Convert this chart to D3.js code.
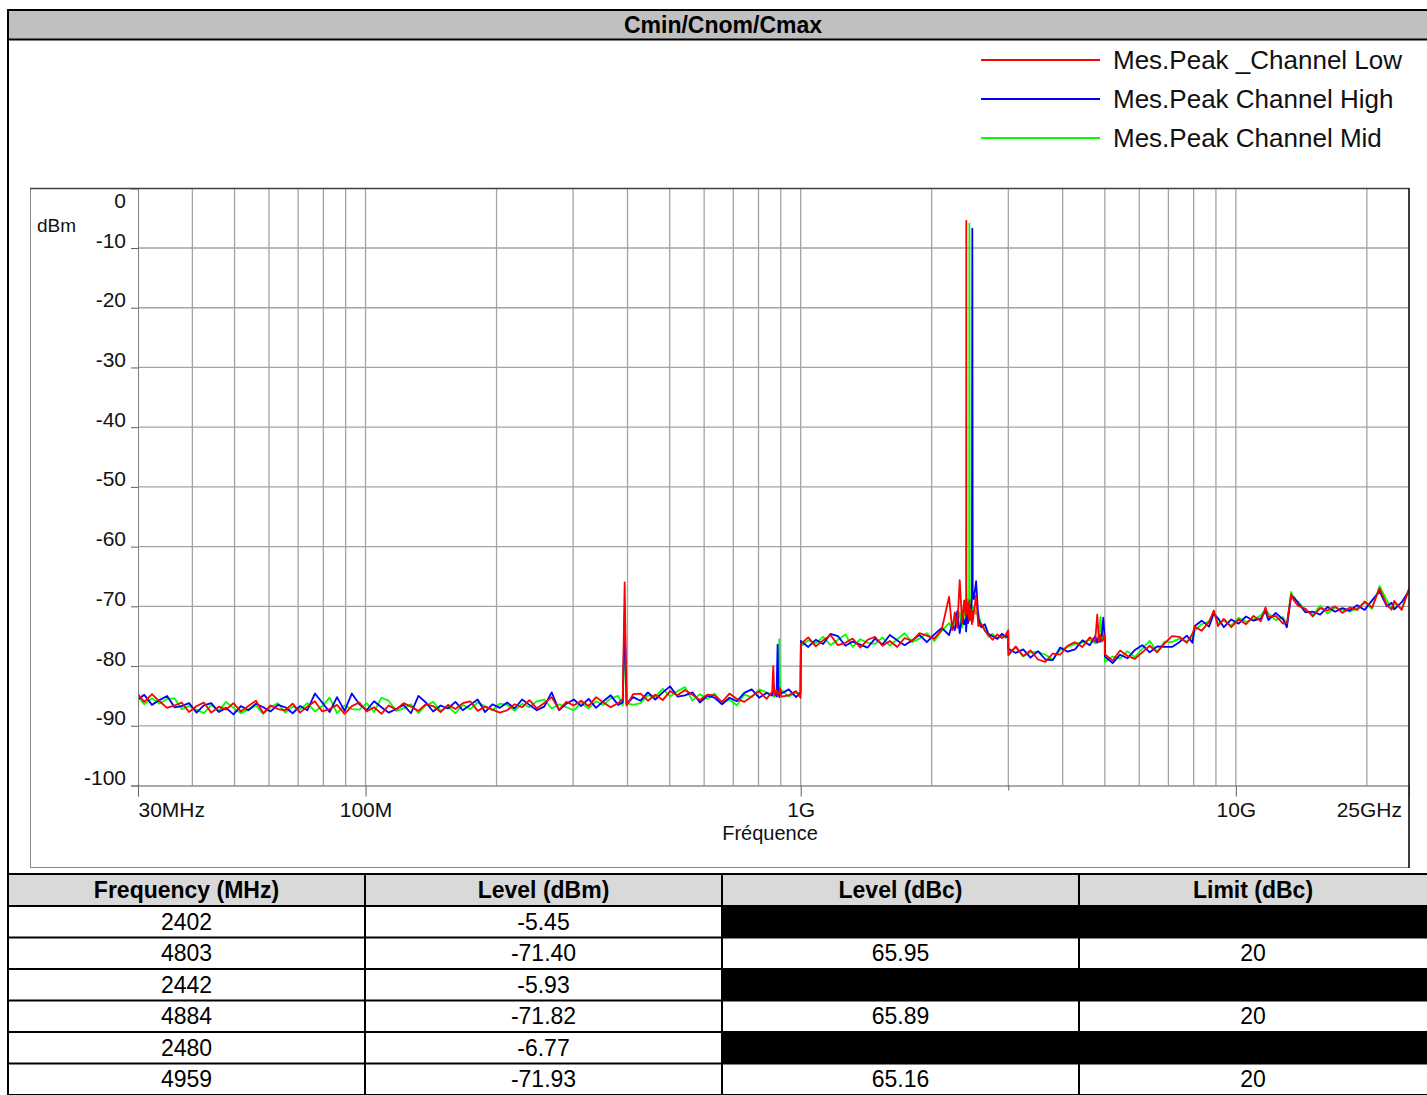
<!DOCTYPE html>
<html>
<head>
<meta charset="utf-8">
<script src="https://cdn.jsdelivr.net/npm/d3@7"></script>
<style>
  body { margin: 0; background: #fff; }
  text { font-family: "Liberation Sans", Arial, sans-serif; }
</style>
</head>
<body>
<script>
// sweep frequencies (MHz), shared by the three traces
var freqMHz = [
  30, 31, 32.3, 33.6, 35, 36.4, 37.8, 39.3, 40.9, 42.5,
  44.2, 46, 47.8, 49.7, 51.7, 53.8, 56, 58.2, 60.5, 62.9,
  65.4, 68, 70.7, 73.5, 76.5, 79.5, 82.7, 86, 89.5, 93,
  96.8, 100.6, 104.6, 108.8, 113, 117.6, 122.3, 127.2, 132.3, 137.6,
  143, 148.8, 154.7, 160.9, 167.3, 174, 181, 188.2, 195.7, 203.5,
  211.7, 220, 229, 238, 247.5, 257.4, 267.7, 278.4, 289.5, 301,
  313, 325.6, 338.6, 352, 366, 380.7, 390, 394, 398, 412,
  428.5, 445.6, 463.4, 482, 501, 521, 542, 564, 586.5, 610,
  634, 659.6, 686, 713.5, 742, 771.7, 802.6, 834.7, 860, 865,
  870, 880, 885, 889, 893, 897, 903, 939, 976, 999,
  1001, 1041, 1083, 1126, 1171, 1218, 1267, 1317, 1370, 1425,
  1482, 1541, 1603, 1667, 1733, 1803, 1875, 1950, 2028, 2109,
  2193, 2230, 2260, 2290, 2320, 2350, 2375, 2395, 2400, 2402,
  2404, 2410, 2425, 2438, 2442, 2446, 2460, 2475, 2480, 2485,
  2500, 2530, 2560, 2600, 2650, 2700, 2760, 2830, 2900, 2960,
  2999, 3001, 3120, 3245, 3375, 3510, 3650, 3796, 3948, 4106,
  4270, 4441, 4618, 4750, 4803, 4850, 4884, 4920, 4959, 4999,
  5001, 5210, 5420, 5636, 5862, 6096, 6340, 6594, 6857, 7132,
  7417, 7714, 7950, 8050, 8343, 8677, 8900, 9100, 9385, 9760,
  10150, 10556, 10979, 11418, 11700, 11875, 12350, 12844, 13100, 13400,
  13600, 13892, 14447, 15025, 15626, 16251, 16901, 17577, 18280, 19012,
  19772, 20563, 21386, 22241, 22800, 23131, 24056, 25000
];

// Mes.Peak _Channel Low (dBm)
var lowLevels = [
  -84.7, -86.0, -84.7, -85.9, -87.0, -86.6, -86.1, -87.7, -86.7, -86.1,
  -87.8, -86.8, -87.3, -86.2, -87.6, -86.7, -85.8, -87.9, -86.6, -87.2,
  -87.4, -86.3, -87.8, -86.8, -85.9, -87.6, -87.2, -86.5, -88.0, -86.7,
  -86.1, -87.6, -86.9, -88.0, -86.6, -87.3, -86.2, -86.8, -87.5, -86.4,
  -86.7, -87.7, -86.5, -87.2, -86.2, -85.9, -87.5, -86.8, -87.3, -87.8,
  -87.4, -86.4, -86.9, -85.7, -87.1, -86.2, -85.2, -87.3, -86.0, -86.6,
  -85.8, -86.7, -85.2, -86.1, -86.9, -86.2, -85.5, -66.0, -86.6, -84.7,
  -84.6, -85.8, -84.8, -85.7, -84.2, -84.9, -84.0, -84.8, -85.7, -84.8,
  -84.9, -86.0, -84.6, -85.5, -86.0, -85.1, -84.2, -85.5, -84.3, -80.0,
  -84.8, -84.1, -85.0, -84.3, -84.6, -83.7, -85.1, -84.9, -84.2, -85.3,
  -76.3, -75.2, -76.7, -75.7, -74.8, -76.5, -76.1, -75.4, -76.9, -75.6,
  -75.1, -76.6, -75.8, -76.8, -75.3, -75.8, -74.5, -74.9, -75.4, -73.9,
  -68.4, -74.0, -71.0, -73.6, -65.6, -72.8, -69.0, -71.8, -68.5, -5.45,
  -68.0, -71.2, -69.5, -72.3, -69.0, -72.4, -70.5, -73.0, -70.8, -72.6,
  -71.0, -68.2, -73.3, -72.9, -74.1, -74.8, -75.6, -74.7, -75.3, -74.8,
  -74.0, -78.2, -76.7, -78.3, -77.4, -78.9, -79.3, -77.9, -78.1, -76.6,
  -76.0, -76.8, -75.2, -75.9, -71.4, -76.0, -74.8, -75.8, -75.6, -74.7,
  -78.0, -79.1, -77.4, -78.3, -78.8, -77.7, -76.6, -77.7, -76.2, -75.0,
  -75.1, -76.1, -74.6, -73.4, -74.1, -72.6, -70.7, -73.3, -72.1, -73.5,
  -72.2, -73.0, -71.6, -72.5, -70.2, -71.8, -71.6, -72.9, -72.8, -68.0,
  -69.0, -69.9, -70.4, -71.7, -70.3, -70.7, -70.0, -71.1, -70.2, -70.6,
  -69.2, -70.2, -67.0, -69.8, -70.5, -69.1, -70.6, -67.0
];

// Mes.Peak Channel High (dBm)
var highLevels = [
  -85.6, -84.8, -86.5, -85.7, -85.0, -86.9, -86.7, -86.2, -87.8, -86.6,
  -86.2, -87.7, -87.0, -88.1, -86.7, -87.4, -86.3, -86.9, -87.6, -86.5,
  -86.9, -87.9, -86.7, -87.4, -84.6, -86.1, -87.7, -85.2, -87.5, -84.6,
  -86.4, -87.4, -85.9, -86.9, -87.8, -87.2, -86.5, -87.9, -85.0, -86.1,
  -87.6, -86.6, -87.1, -86.0, -87.4, -86.5, -85.6, -87.7, -86.4, -87.0,
  -86.1, -87.1, -85.6, -86.5, -87.4, -86.8, -84.4, -87.4, -86.3, -85.6,
  -86.7, -85.5, -87.0, -85.9, -84.9, -86.5, -86.1, -71.5, -86.4, -85.2,
  -85.8, -84.4, -85.6, -84.4, -83.4, -85.1, -84.9, -84.4, -86.1, -85.0,
  -85.3, -86.4, -85.3, -85.9, -84.5, -83.9, -85.3, -84.5, -84.9, -84.3,
  -84.0, -85.1, -76.4, -84.7, -85.2, -84.1, -84.6, -83.9, -85.2, -84.4,
  -75.8, -76.8, -75.6, -76.3, -74.6, -75.0, -76.6, -75.9, -76.4, -76.9,
  -75.4, -76.4, -74.8, -75.7, -76.5, -75.7, -74.8, -76.0, -74.7, -73.6,
  -74.8, -73.0, -74.0, -70.8, -74.5, -71.5, -73.0, -72.0, -74.2, -73.5,
  -73.5, -71.2, -72.8, -70.4, -72.3, -69.8, -71.5, -68.5, -6.77, -67.5,
  -68.8, -65.8, -72.0, -73.5, -73.0, -74.6, -75.0, -75.4, -74.6, -75.1,
  -74.9, -77.1, -77.8, -77.2, -78.6, -77.5, -78.9, -79.0, -76.9, -77.6,
  -77.2, -75.7, -76.5, -75.0, -76.1, -75.1, -75.9, -74.9, -71.9, -75.6,
  -78.4, -79.5, -78.1, -78.7, -77.3, -76.5, -77.7, -76.7, -76.8, -76.8,
  -76.0, -74.9, -76.1, -73.3, -72.4, -73.4, -71.2, -72.0, -73.5, -72.2,
  -72.9, -71.7, -72.4, -72.0, -70.8, -72.3, -71.1, -72.2, -73.5, -68.3,
  -68.5, -69.4, -71.0, -70.9, -71.4, -70.1, -70.9, -70.3, -70.7, -69.8,
  -70.6, -69.0, -67.5, -70.0, -69.4, -70.5, -69.3, -67.4
];

// Mes.Peak Channel Mid (dBm)
var midLevels = [
  -85.1, -86.4, -85.4, -86.3, -85.5, -85.4, -87.2, -86.7, -87.3, -87.9,
  -86.5, -87.5, -86.0, -87.0, -87.9, -87.3, -86.6, -88.0, -86.9, -86.2,
  -87.8, -86.8, -87.3, -86.2, -87.6, -86.7, -85.3, -87.9, -86.6, -87.2,
  -87.3, -86.2, -87.7, -85.3, -85.8, -87.5, -87.1, -86.4, -87.9, -86.6,
  -86.0, -87.5, -86.8, -87.9, -86.5, -87.2, -86.1, -86.7, -87.4, -86.3,
  -86.5, -87.5, -86.3, -86.9, -85.9, -85.6, -87.1, -86.4, -86.9, -87.4,
  -86.2, -87.1, -85.9, -86.5, -85.4, -85.0, -86.6, -75.0, -86.2, -86.5,
  -86.2, -84.9, -85.1, -83.8, -85.1, -84.2, -83.5, -85.8, -84.7, -85.5,
  -84.6, -86.2, -85.6, -86.6, -84.8, -85.2, -83.9, -84.4, -85.0, -84.9,
  -85.2, -84.3, -83.9, -84.8, -75.5, -84.9, -84.0, -85.1, -84.5, -84.6,
  -76.7, -75.7, -76.2, -75.1, -76.5, -75.6, -74.7, -76.8, -75.5, -76.1,
  -76.3, -75.2, -76.6, -75.5, -74.5, -76.0, -75.4, -74.5, -75.8, -74.1,
  -72.8, -73.8, -72.0, -73.2, -71.0, -73.5, -70.0, -72.4, -70.8, -71.6,
  -69.5, -71.0, -68.8, -70.5, -5.93, -67.8, -71.5, -69.8, -72.0, -70.5,
  -70.2, -71.3, -71.0, -73.4, -73.6, -75.1, -74.6, -75.5, -74.9, -75.3,
  -74.4, -77.8, -76.9, -78.4, -77.7, -77.6, -78.1, -78.9, -77.3, -76.8,
  -76.3, -76.0, -75.6, -76.2, -75.3, -74.9, -71.8, -75.9, -74.8, -75.8,
  -79.3, -78.4, -78.7, -77.5, -78.5, -77.1, -75.8, -77.6, -75.9, -76.0,
  -75.4, -75.9, -75.3, -74.0, -73.0, -72.5, -71.0, -72.9, -72.4, -73.2,
  -71.9, -72.6, -72.2, -71.5, -70.5, -71.2, -72.3, -71.8, -73.3, -67.6,
  -68.8, -69.2, -70.6, -71.4, -69.9, -71.2, -70.2, -70.6, -70.9, -70.3,
  -69.4, -70.4, -66.6, -69.0, -70.6, -69.5, -70.4, -67.2
];

var seriesNames = ["Mes.Peak _Channel Low", "Mes.Peak Channel High", "Mes.Peak Channel Mid"];
var seriesColors = ["#ff0000", "#0000ff", "#00ff00"];

var yTicks = [0, -10, -20, -30, -40, -50, -60, -70, -80, -90, -100];
var xTickValues = [30, 100, 1000, 10000];
var xTickLabels = ["30MHz", "100M", "1G", "10G"];
var xEndLabel = "25GHz";

// result table
var tableHeader = ["Frequency (MHz)", "Level (dBm)", "Level (dBc)", "Limit (dBc)"];
var tableFreq = ["2402", "4803", "2442", "4884", "2480", "4959"];
var tableLevel = ["-5.45", "-71.40", "-5.93", "-71.82", "-6.77", "-71.93"];
var tableDbc = [null, "65.95", null, "65.89", null, "65.16"];
var tableLimit = [null, "20", null, "20", null, "20"];

var W = 1427, H = 1095;
var svg = d3.select("body").append("svg")
  .attr("width", W).attr("height", H);

// outer frame + title bar
svg.append("rect").attr("x", 9).attr("y", 11).attr("width", W - 9).attr("height", 28)
  .style("fill", "#c0c0c0");
svg.append("line").attr("x1", 7).attr("x2", W).attr("y1", 10).attr("y2", 10)
  .style("stroke", "#000").style("stroke-width", 2);
svg.append("line").attr("x1", 7).attr("x2", W).attr("y1", 39.5).attr("y2", 39.5)
  .style("stroke", "#000").style("stroke-width", 2);
svg.append("line").attr("x1", 8).attr("x2", 8).attr("y1", 9).attr("y2", 874)
  .style("stroke", "#000").style("stroke-width", 2);
svg.append("text")
  .attr("x", 723).attr("y", 33)
  .attr("text-anchor", "middle")
  .style("font-size", "23px").style("font-weight", "bold")
  .text("Cmin/Cnom/Cmax");

// legend
var legend = svg.append("g");
seriesNames.forEach(function(name, i) {
  var ly = 60 + i * 39;
  legend.append("line").attr("x1", 981).attr("x2", 1100).attr("y1", ly).attr("y2", ly)
    .style("stroke", seriesColors[i]).style("stroke-width", 1.5)
    .style("shape-rendering", "crispEdges");
  legend.append("text").attr("x", 1113).attr("y", ly + 9)
    .style("font-size", "26px").style("fill", "#111")
    .text(name);
});

// plot area
var plotL = 138, plotR = 1409, plotT = 188.3, plotB = 785.5;

var x = d3.scaleLog().domain([30, 25000]).range([plotL, plotR]);
var y = d3.scaleLinear().domain([-100, 0]).range([plotB, plotT]);

// chart box
svg.append("rect").attr("x", 30.5).attr("y", 188.5).attr("width", plotR - 30.5).attr("height", 867.5 - 188.5)
  .style("fill", "none").style("stroke", "#8a8a8a").style("stroke-width", 1);

// grid
var grid = svg.append("g");
grid.selectAll(".vg")
  .data(x.ticks().filter(function(d) { return d > 30; }))
  .enter().append("line")
  .attr("x1", function(d) { return x(d); }).attr("x2", function(d) { return x(d); })
  .attr("y1", plotT).attr("y2", plotB)
  .style("stroke", "#a3a3a3").style("stroke-width", 1.3);
grid.selectAll(".hg")
  .data(yTicks.filter(function(d) { return d > -100 && d < 0; }))
  .enter().append("line")
  .attr("x1", plotL).attr("x2", plotR)
  .attr("y1", function(d) { return y(d); }).attr("y2", function(d) { return y(d); })
  .style("stroke", "#a3a3a3").style("stroke-width", 1.3);

// traces
var line = d3.line()
  .x(function(d) { return x(d[0]); })
  .y(function(d) { return y(d[1]); });

svg.append("clipPath").attr("id", "plotclip").append("rect")
  .attr("x", plotL).attr("y", plotT).attr("width", plotR - plotL).attr("height", plotB - plotT);

var traces = [midLevels, highLevels, lowLevels];
var traceColors = [seriesColors[2], seriesColors[1], seriesColors[0]];
traces.forEach(function(levels, i) {
  var pts = freqMHz.map(function(f, k) { return [f, levels[k]]; });
  svg.append("path")
    .datum(pts)
    .attr("clip-path", "url(#plotclip)")
    .attr("d", line)
    .style("fill", "none")
    .style("stroke", traceColors[i])
    .style("stroke-width", 1.8)
    .style("stroke-linejoin", "round");
});

// axes
var yAxis = svg.append("g")
  .attr("transform", "translate(" + plotL + ",0)")
  .call(d3.axisLeft(y).tickValues(yTicks).tickSize(7).tickPadding(5)
    .tickFormat(function(d) { return String(d); }));
yAxis.select(".domain").style("stroke", "#808080");
yAxis.selectAll(".tick line").style("stroke", "#606060");
yAxis.selectAll(".tick text")
  .style("font-size", "21px").style("fill", "#111")
  .attr("font-family", null)
  .attr("dy", function(d) { return d === 0 ? "0.95em" : "0em"; })
  .attr("y", -1);

var xAxis = svg.append("g")
  .attr("transform", "translate(0," + plotB + ")")
  .call(d3.axisBottom(x).tickValues(xTickValues).tickSize(11).tickPadding(6)
    .tickFormat(function(d, i) { return xTickLabels[i]; }));
xAxis.select(".domain").style("stroke", "#555");
xAxis.selectAll(".tick line").style("stroke", "#606060");
xAxis.selectAll(".tick text")
  .style("font-size", "21px").style("fill", "#111")
  .attr("font-family", null)
  .attr("text-anchor", function(d) { return d === 30 ? "start" : "middle"; });
svg.append("g")
  .attr("transform", "translate(0," + plotB + ")")
  .call(d3.axisBottom(x).tickValues([3000]).tickSize(5).tickFormat(""))
  .call(function(g) { g.select(".domain").remove(); })
  .selectAll("line").style("stroke", "#606060");
svg.append("text")
  .attr("x", x(25000) - 7).attr("y", plotB + 31)
  .attr("text-anchor", "end")
  .style("font-size", "21px").style("fill", "#111")
  .text(xEndLabel);

// plot top & right borders
svg.append("line").attr("x1", 30).attr("x2", plotR).attr("y1", 188.5).attr("y2", 188.5)
  .style("stroke", "#404040").style("stroke-width", 1.3);
svg.append("line").attr("x1", plotR).attr("x2", plotR).attr("y1", 188).attr("y2", 868)
  .style("stroke", "#111").style("stroke-width", 1.5);

svg.append("text").attr("x", 37).attr("y", 232)
  .style("font-size", "19px").style("fill", "#111").text("dBm");
svg.append("text").attr("x", 770).attr("y", 840)
  .attr("text-anchor", "middle")
  .style("font-size", "20px").style("fill", "#111").text("Fréquence");

// table
var colX = [8, 365, 722, 1079, W];
var headTop = 874, headH = 32, rowH = 31.5;
var table = svg.append("g");

table.append("rect").attr("x", colX[0]).attr("y", headTop)
  .attr("width", W - colX[0]).attr("height", headH).style("fill", "#d9d9d9");

tableHeader.forEach(function(h, c) {
  table.append("text")
    .attr("x", (colX[c] + colX[c + 1]) / 2).attr("y", headTop + headH / 2 + 8)
    .attr("text-anchor", "middle")
    .style("font-size", "23px").style("font-weight", "bold").style("fill", "#000")
    .text(h);
});

tableFreq.forEach(function(fq, r) {
  var ry = headTop + headH + r * rowH;
  var cells = [fq, tableLevel[r], tableDbc[r], tableLimit[r]];
  if (tableDbc[r] === null) {
    table.append("rect").attr("x", colX[2]).attr("y", ry)
      .attr("width", W - colX[2]).attr("height", rowH).style("fill", "#000");
  }
  cells.forEach(function(v, c) {
    if (v === null) return;
    table.append("text")
      .attr("x", (colX[c] + colX[c + 1]) / 2).attr("y", ry + rowH / 2 + 8)
      .attr("text-anchor", "middle")
      .style("font-size", "23px").style("fill", "#000")
      .text(v);
  });
});

// table rules
for (var r = 0; r <= tableFreq.length + 1; r++) {
  var ly = r === 0 ? headTop : headTop + headH + (r - 1) * rowH;
  table.append("line").attr("x1", colX[0]).attr("x2", W).attr("y1", ly).attr("y2", ly)
    .style("stroke", "#000").style("stroke-width", 2);
}
colX.slice(0, 4).forEach(function(cx) {
  table.append("line").attr("x1", cx).attr("x2", cx).attr("y1", headTop).attr("y2", H)
    .style("stroke", "#000").style("stroke-width", 2);
});
</script>
</body>
</html>
